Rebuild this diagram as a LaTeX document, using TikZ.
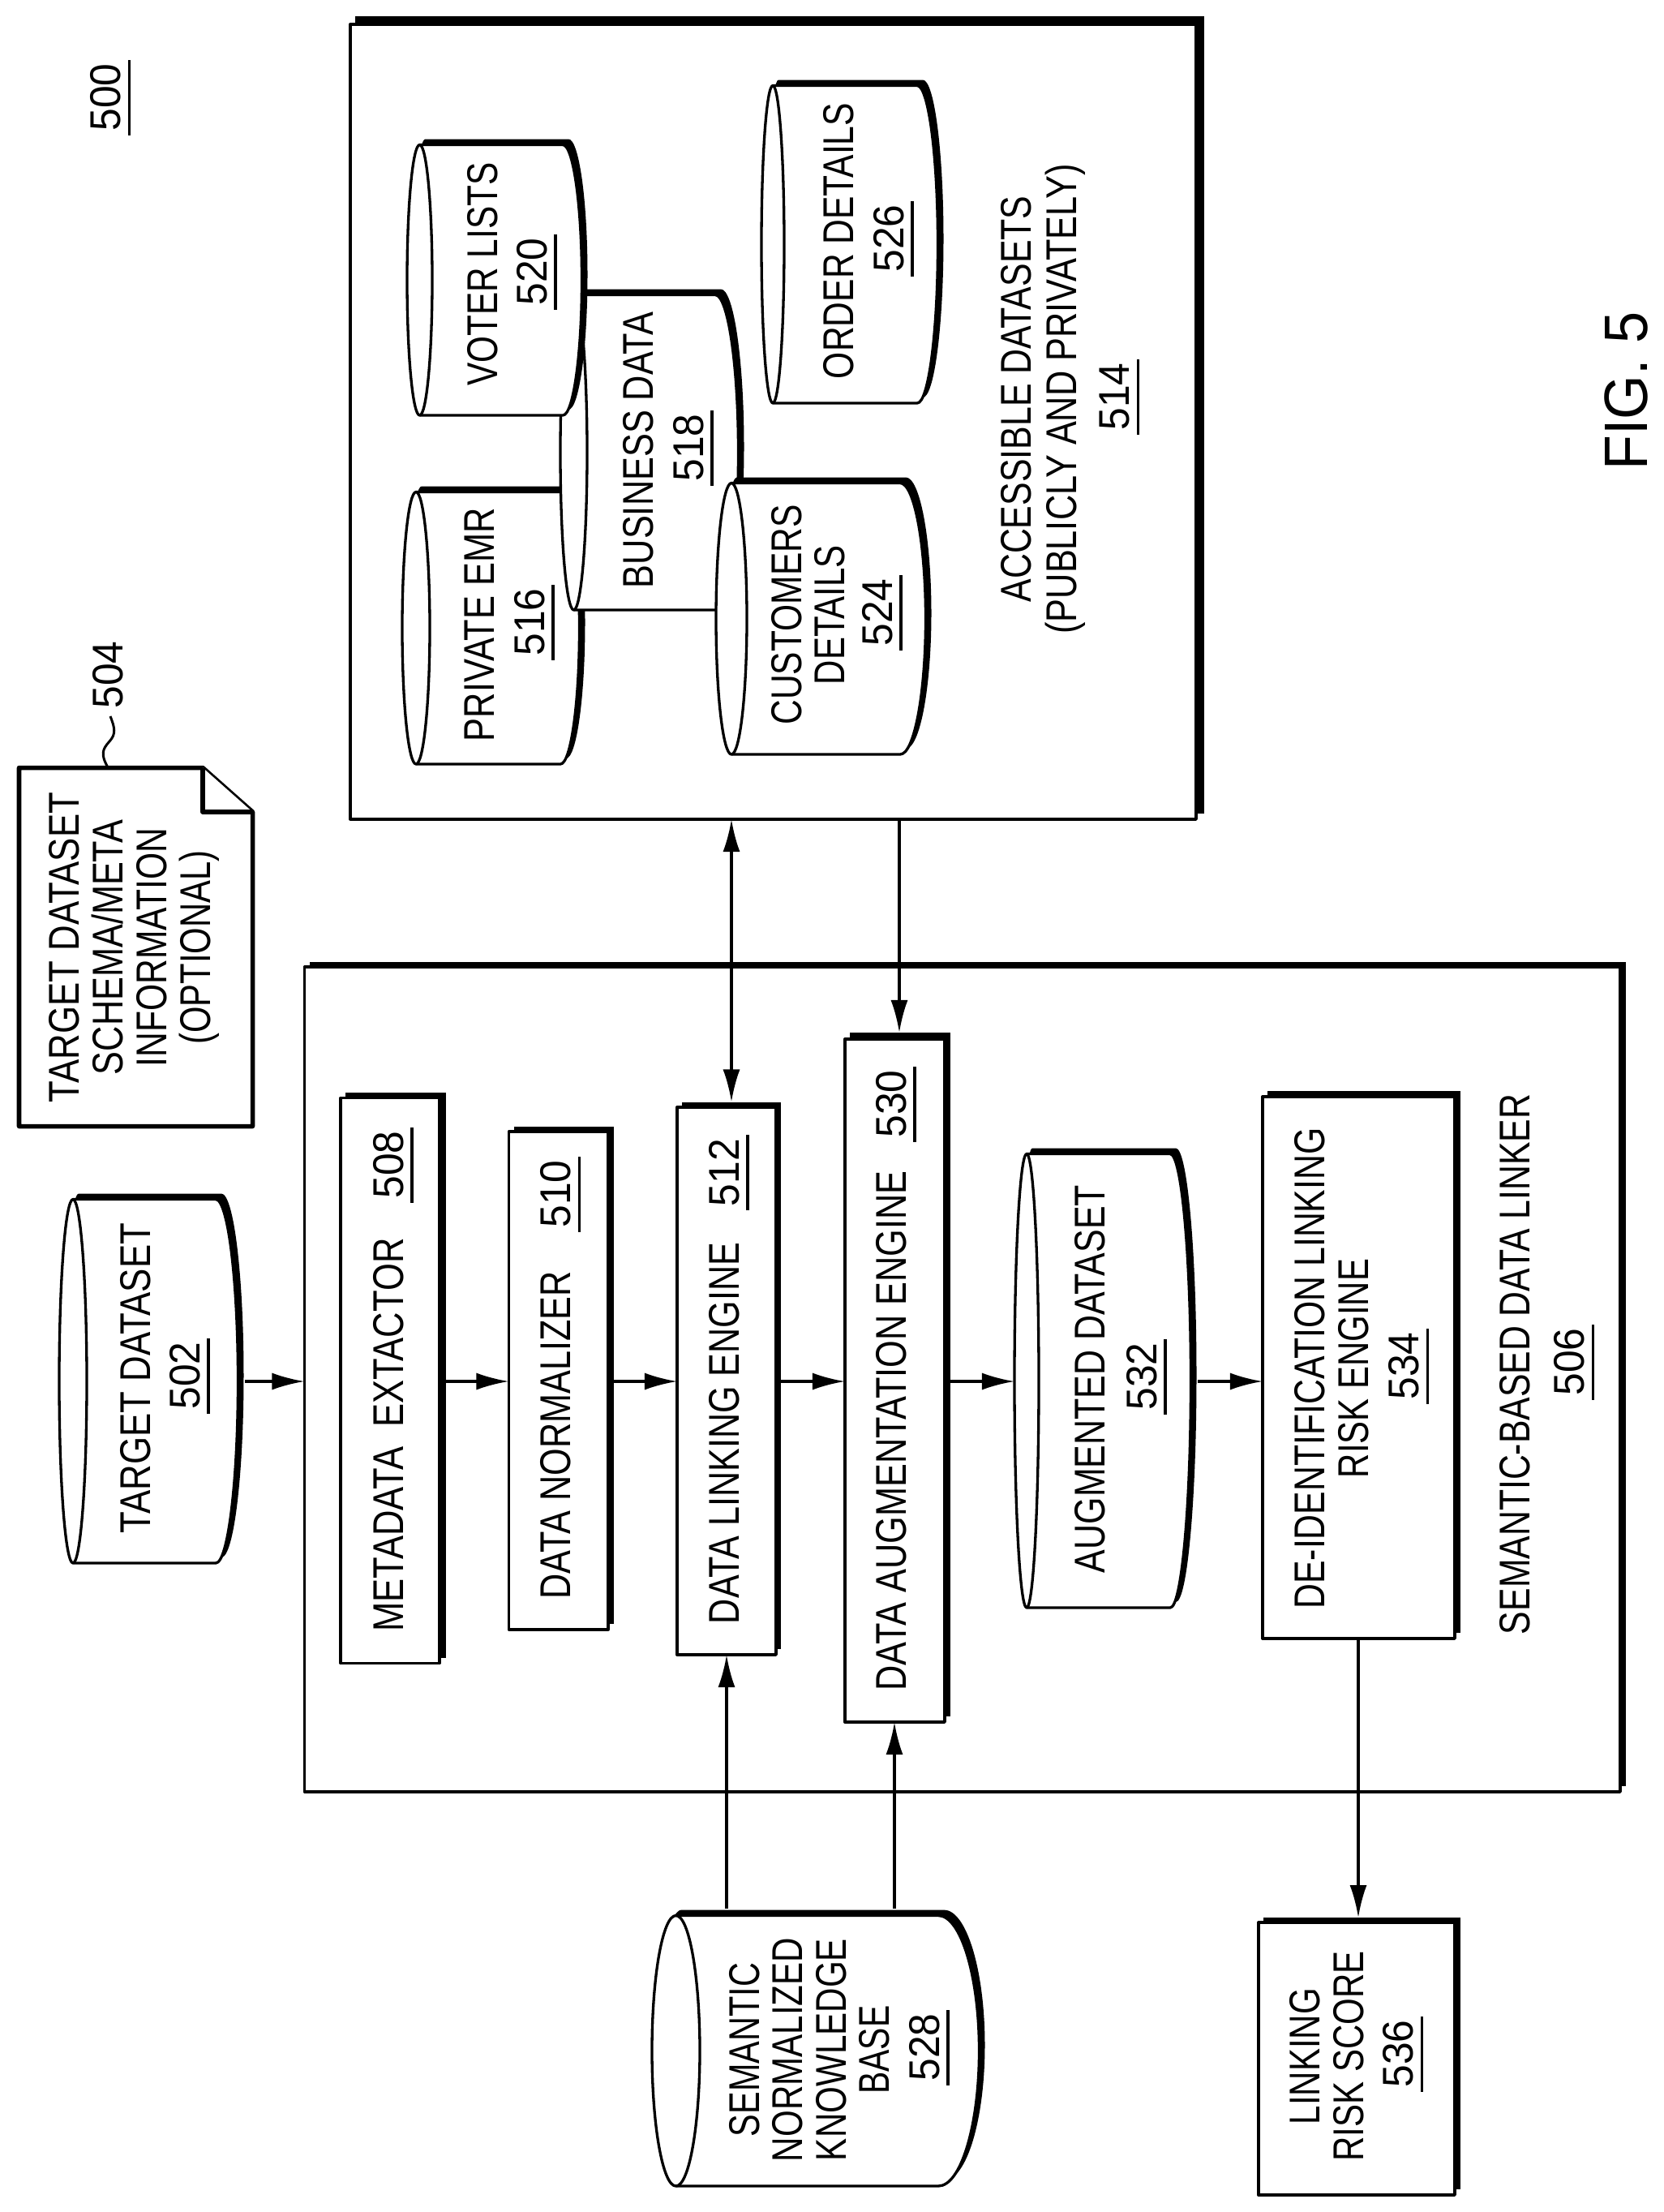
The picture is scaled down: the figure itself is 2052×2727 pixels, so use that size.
\documentclass[tikz,border=0pt]{standalone}
\usepackage{graphicx}
\usepackage{fontspec}
\setmainfont{Liberation Sans}
\usetikzlibrary{arrows.meta}
\newdimen\pxu \pxu=0.01cm
\newcommand\fitw[2]{\resizebox{#1\pxu}{\height}{#2}}
\newcommand\numu[1]{\smash{\rlap{\kern-5\pxu\rule[-12.5\pxu]{93\pxu}{3.3\pxu}}}\fitw{83}{#1}}
\newcommand\numk[1]{\kern6\pxu\numu{#1}}
\tikzset{
  thinline/.style={line width=0.033cm,draw=black,line join=round},
  shapebox/.style={thinline,fill=white,inner sep=0pt,outer sep=0pt},
  shadowbox/.style={fill=black,draw=none,inner sep=0pt,outer sep=0pt},
  ghostbox/.style={draw=none,fill=none,inner sep=0pt,outer sep=0pt},
  arr/.style={line width=0.033cm,draw=black,-{Latex[length=0.4cm,width=0.21cm]}},
  arrboth/.style={line width=0.033cm,draw=black,{Latex[length=0.4cm,width=0.21cm]}-{Latex[length=0.4cm,width=0.21cm]}},
  lbl/.style={rotate=90,align=center,inner sep=0pt,outer sep=0pt,text=black},
  docline/.style={line width=0.055cm,draw=black,line join=round,fill=white},
}
% name, l, t, r, b, outer right, outer top
\newcommand\shadbox[7]{%
  \node[shadowbox,minimum width={(#6-#2-6)*0.01cm},minimum height={(#5-7-#7)*0.01cm}] (#1s) at ({(#6+#2+6)/2},{(#5-7+#7)/2}) {};
  \node[shapebox,minimum width={(#4-#2)*0.01cm},minimum height={(#5-#3)*0.01cm}] (#1) at ({(#2+#4)/2},{(#3+#5)/2}) {};
}
% name, ellipse left, ellipse right, outer top, bottom, top line end, outer right
\newcommand\cylnd[7]{%
  \pgfmathsetmacro\cc{(#2+#3)/2}%
  \pgfmathsetmacro\crx{(#3-#2)/2}%
  \pgfmathsetmacro\ct{#4+8.5}%
  \pgfmathsetmacro\cmy{(\ct+#5)/2}%
  \pgfmathsetmacro\cry{(#5-\ct)/2}%
  \pgfmathsetmacro\cxr{#7-8.5}%
  \pgfmathsetmacro\crr{\cxr-#6}%
  \pgfmathsetmacro\ax{#6+0.5523*\crr}%
  \pgfmathsetmacro\aya{\cmy-0.5523*\cry}%
  \pgfmathsetmacro\ayb{\cmy+0.5523*\cry}%
  \pgfmathsetmacro\bx{\cc-0.5523*\crx}%
  \def\cbody{(\cc,\ct) -- (#6,\ct) .. controls (\ax,\ct) and (\cxr,\aya) .. (\cxr,\cmy) .. controls (\cxr,\ayb) and (\ax,#5) .. (#6,#5) -- (\cc,#5) .. controls (\bx,#5) and (#2,\ayb) .. (#2,\cmy) .. controls (#2,\aya) and (\bx,\ct) .. (\cc,\ct) -- cycle}%
  \fill[black,shift={(7,-7)}] \cbody;
  \filldraw[thinline,fill=white] \cbody;
  \draw[thinline] (\cc,\ct) .. controls ({\cc+0.5523*\crx},\ct) and (#3,\aya) .. (#3,\cmy) .. controls (#3,\ayb) and ({\cc+0.5523*\crx},#5) .. (\cc,#5);
  \node[ghostbox,minimum width={(#7-#2)*0.01cm},minimum height={(#5-#4)*0.01cm}] (#1) at ({(#2+#7)/2},{(#4+#5)/2}) {};
}
% name, x, y, line pitch, text
\newcommand\lbln[5]{%
  \node[lbl,font={\fontsize{15.1pt}{#4\pxu}\selectfont}] (#1) at (#2,#3) {#5};
}
\begin{document}
\begin{tikzpicture}[x=0.01cm,y=-0.01cm]
\useasboundingbox[fill=white] (0,0) rectangle (2052,2727);

\shadbox{b506}{375.5}{1192}{1998}{2209}{2005}{1186}
\shadbox{b514}{432}{30}{1475}{1010}{1485}{20}
\shadbox{b508}{420}{1353.5}{542}{2050.5}{549.5}{1347}
\shadbox{b510}{627.5}{1395}{750}{2009}{757}{1388.5}
\shadbox{b512}{835}{1365}{957}{2040}{963}{1358.5}
\shadbox{b530}{1042}{1281}{1165}{2123}{1172}{1273}
\shadbox{b534}{1557}{1352}{1794}{2020}{1801}{1345}
\shadbox{b536}{1552}{2370}{1794}{2706}{1801}{2364}

\cylnd{c502}{73}{107}{1470}{1927}{266}{302}
\cylnd{c516}{496}{530}{598}{942}{691}{723}
\cylnd{c518}{691}{724}{355}{752}{882}{919}
\cylnd{c520}{502}{533}{170}{512}{694}{726}
\cylnd{c524}{883}{921}{587}{930}{1110}{1150}
\cylnd{c526}{939}{967}{97}{497}{1131}{1165}
\cylnd{c532}{1251}{1281}{1414}{1982}{1443}{1477}
\cylnd{c528}{804}{863}{2353}{2695}{1157}{1216}

% document shape
\node[ghostbox,minimum width=2.88cm,minimum height=4.42cm] (d504) at (167.5,1167.5) {};
\draw[docline] (23.5,946.5) -- (250,946.5) -- (311.5,1001) -- (311.5,1388.5) -- (23.5,1388.5) -- cycle;
\draw[docline] (250,946.5) -- (250,1001) -- (311.5,1001);

% connectors
\coordinate (flow) at (0,1703);
\coordinate (xlink) at (902,0);
\coordinate (xaug) at (1109,0);
\coordinate (kba) at (896,0);
\coordinate (kbb) at (1103,0);
\coordinate (xrisk) at (1675,0);
\coordinate (sqa) at (133,946);
\coordinate (sqb) at (136,883);
\draw[arr] (c502.east |- flow) -- (b506.west |- flow);
\draw[arr] (b508s.east |- flow) -- (b510.west |- flow);
\draw[arr] (b510s.east |- flow) -- (b512.west |- flow);
\draw[arr] (b512s.east |- flow) -- (b530.west |- flow);
\draw[arr] (b530s.east |- flow) -- (c532.west |- flow);
\draw[arr] (c532.east |- flow) -- (b534.west |- flow);
\draw[arrboth] (xlink |- b514.south) -- (xlink |- b512s.north);
\draw[arr] (xaug |- b514.south) -- (xaug |- b530s.north);
\draw[arr] (kba |- c528.north) -- (kba |- b512.south);
\draw[arr] (kbb |- c528.north) -- (kbb |- b530.south);
\draw[arr] (xrisk |- b534.south) -- (xrisk |- b536s.north);
\draw[line width=0.03cm] (sqa) .. controls (124,930) and (126,924) .. (135,914) .. controls (143,905) and (142,898) .. (sqb);

% labels
\lbln{t520}{625.5}{338}{61}{\fitw{275}{VOTER LISTS}\\\numk{520}}
\lbln{t516}{622}{770}{62}{\fitw{288}{PRIVATE EMR}\\\numk{516}}
\lbln{t518}{818}{555}{62}{\fitw{340}{BUSINESS DATA}\\\numk{518}}
\lbln{t524}{1026}{758}{53}{\fitw{271}{CUSTOMERS}\\\fitw{172}{DETAILS}\\[6\pxu]\numk{524}}
\lbln{t526}{1065}{297}{62}{\fitw{340}{ORDER DETAILS}\\\numk{526}}
\lbln{t514}{1313.5}{492}{56.5}{\fitw{501}{ACCESSIBLE DATASETS}\\\fitw{579}{(PUBLICLY AND PRIVATELY)}\\[8\pxu]\numk{514}}
\lbln{t504}{165}{1168}{54}{\fitw{382}{TARGET DATASET}\\\fitw{314}{SCHEMA/META}\\\fitw{295}{INFORMATION}\\\fitw{239}{(OPTIONAL)}}
\lbln{t502}{197.5}{1699}{61}{\fitw{382}{TARGET DATASET}\\\numk{502}}
\lbln{t508}{479}{1703}{54}{\fitw{485}{METADATA\ \ EXTACTOR}\kern49\pxu\numu{508}}
\lbln{t510}{685.5}{1701}{54}{\fitw{404}{DATA NORMALIZER}\kern54\pxu\numu{510}}
\lbln{t512}{893}{1703}{54}{\fitw{470}{DATA LINKING ENGINE}\kern45\pxu\numu{512}}
\lbln{t530}{1099}{1702}{54}{\fitw{641}{DATA AUGMENTATION ENGINE}\kern41\pxu\numu{530}}
\lbln{t532}{1376}{1700}{64}{\fitw{478}{AUGMENTED DATASET}\\\numk{532}}
\lbln{t534}{1673}{1687}{54}{\fitw{593}{DE-IDENTIFICATION LINKING}\\\fitw{270}{RISK ENGINE}\\[8\pxu]\numk{534}}
\lbln{t506}{1901.5}{1682}{67}{\fitw{666}{SEMANTIC-BASED DATA LINKER}\\\numk{506}}
\lbln{t528}{1029}{2527}{53.5}{\fitw{214}{SEMANTIC}\\\fitw{276}{NORMALIZED}\\\fitw{274}{KNOWLEDGE}\\\fitw{109}{BASE}\\[8\pxu]\numk{528}}
\lbln{t536}{1666.5}{2535}{54}{\fitw{168}{LINKING}\\\fitw{259}{RISK SCORE}\\[7\pxu]\numk{536}}
\lbln{n500}{130.5}{120}{54}{\numu{500}}
\lbln{n504}{133}{832}{54}{\fitw{83}{504}}
\node[lbl,font={\fontsize{21.5pt}{26pt}\selectfont}] (fig) at (2005,482) {\fitw{195}{FIG. 5}};
\end{tikzpicture}
\end{document}
